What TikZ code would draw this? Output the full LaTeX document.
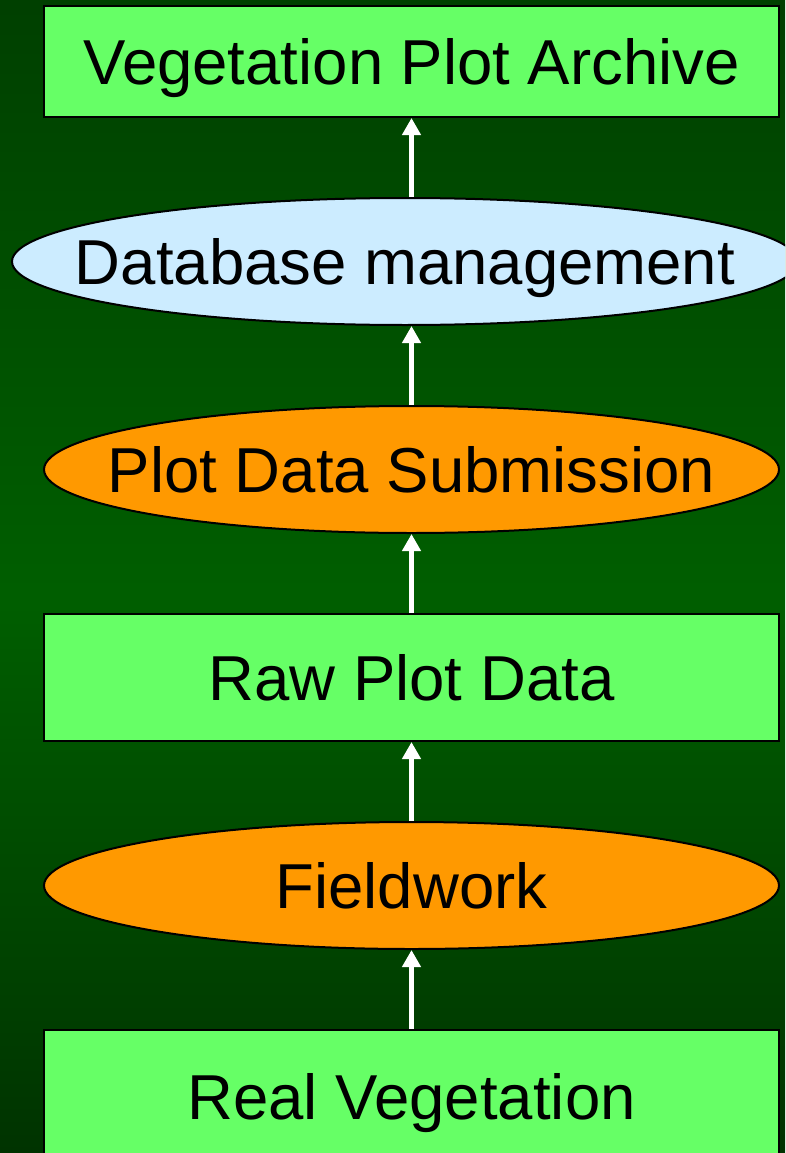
\documentclass[tikz,border=0pt]{standalone}
\usepackage{fontspec}
\setmainfont{Liberation Sans}
\usetikzlibrary{shapes.geometric,arrows.meta}

\definecolor{boxgreen}{RGB}{102,255,102}
\definecolor{paleblue}{RGB}{204,236,255}
\definecolor{stageorange}{RGB}{255,153,0}

% dark green backdrop, brightest a little below the middle
\pgfdeclareverticalshading{greenbackdrop}{100bp}{%
  rgb(0bp)=(0,0.19,0);
  rgb(25bp)=(0,0.20,0);
  rgb(32bp)=(0,0.25,0);
  rgb(49bp)=(0,0.37,0);
  rgb(62bp)=(0,0.31,0);
  rgb(75bp)=(0,0.25,0);
  rgb(100bp)=(0,0.25,0)}

\tikzset{
  label text/.style={font=\fontsize{63.5}{75}\selectfont, text=black,
    text height=45.5pt, text depth=0pt, inner sep=0pt, align=center},
  databox/.style={label text, rectangle, draw=black, line width=2pt,
    fill=boxgreen, minimum width=735pt},
  % negative x separation keeps the ellipse at its set width
  process/.style={label text, ellipse, draw=black, line width=2pt,
    inner xsep=-120pt, minimum width=735pt, minimum height=127pt},
  flow/.style={draw=white, line width=5pt,
    -{Triangle[width=18pt,length=17pt]}},
}

\begin{document}
\begin{tikzpicture}[x=1pt,y=-1pt]
  % page frame and green background
  \useasboundingbox (0,0) rectangle (785,1153);
  \clip (0,0) rectangle (785,1153);
  \shade[shading=greenbackdrop] (0,0) rectangle (785,1153);

  % stages, bottom to top
  \node[databox, minimum height=111pt] (archive) at (411.5,61.5)
    {Vegetation Plot Archive};
  \node[process, fill=paleblue, minimum width=786pt] (dbm) at (405,261.5)
    {Database management};
  \node[process, fill=stageorange] (submit) at (411.5,469.5)
    {Plot Data Submission};
  \node[databox, minimum height=127pt] (raw) at (411.5,677.5)
    {Raw Plot Data};
  \node[process, fill=stageorange] (field) at (411.5,885.5)
    {Fieldwork};
  \node[databox, minimum height=133pt] (real) at (411.5,1096.5)
    {Real Vegetation};

  % upward flow arrows
  \draw[flow] (real.north) -- (field.south);
  \draw[flow] (field.north) -- (raw.south);
  \draw[flow] (raw.north) -- (submit.south);
  \draw[flow] (submit.north) -- (archive.south |- dbm.south);
  \draw[flow] (archive.south |- dbm.north) -- (archive.south);
\end{tikzpicture}
\end{document}
